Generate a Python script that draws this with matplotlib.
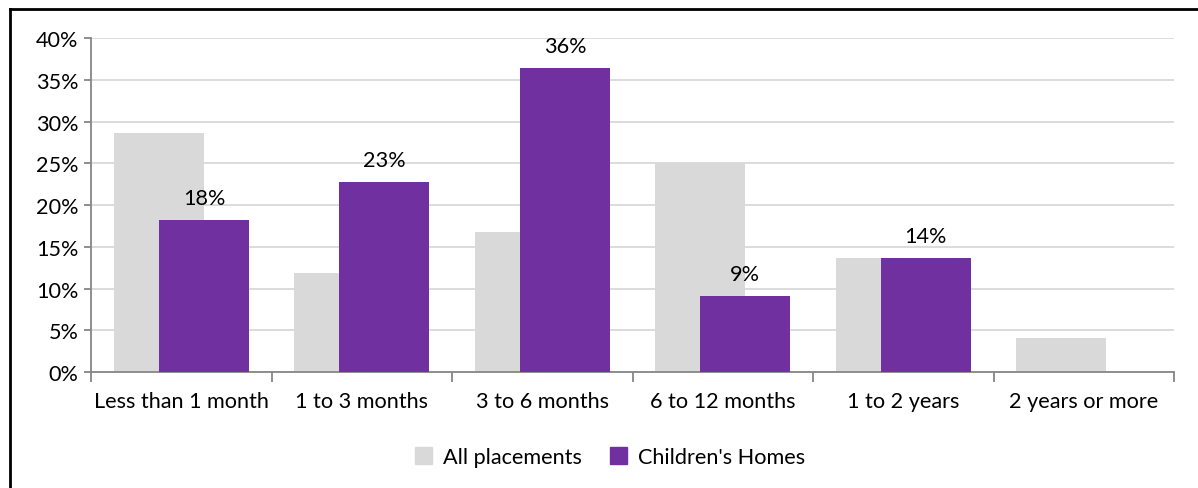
import numpy as np
import matplotlib
matplotlib.use("Agg")
import matplotlib.pyplot as plt
from matplotlib.lines import Line2D
from matplotlib.patches import Patch

plt.rcParams['font.family'] = ['Lato', 'DejaVu Sans']

categories = ["Less than 1 month", "1 to 3 months", "3 to 6 months",
              "6 to 12 months", "1 to 2 years", "2 years or more"]
all_placements = [28.6, 11.9, 16.8, 25.0, 13.6, 4.1]
childrens_homes = [18.2, 22.7, 36.4, 9.1, 13.6, 0.0]
home_labels = ["18%", "23%", "36%", "9%", "14%", ""]

grey = "#d9d9d9"
purple = "#7030a0"
fs = 15.6

fig = plt.figure(figsize=(11.98, 4.89), dpi=100)
ax = fig.add_axes([0.076, 0.2372, 0.904, 0.683])

x = np.arange(len(categories))
w = 0.5
ax.bar(x - 0.125, all_placements, w, color=grey, zorder=2)
bars = ax.bar(x + 0.125, childrens_homes, w, color=purple, zorder=3)
for b, lab in zip(bars, home_labels):
    if lab:
        ax.text(b.get_x() + b.get_width() / 2, b.get_height() + 1.5, lab,
                ha="center", va="bottom", fontsize=fs)

ax.set_xlim(-0.5, len(categories) - 0.5)
ax.set_ylim(0, 40)
ax.set_yticks(np.arange(0, 41, 5))
ax.set_yticklabels([f"{v}%" for v in range(0, 41, 5)], fontsize=fs)
ax.yaxis.grid(True, color=grey, lw=1.3, zorder=0)
ax.set_axisbelow(True)

ax.set_xticks(x)
ax.set_xticklabels(categories, fontsize=fs)
ax.tick_params(axis="x", length=0, pad=14)
ax.set_xticks(np.arange(-0.5, len(categories)), minor=True)
ax.tick_params(axis="x", which="minor", length=7, color="#868686", width=1.3)
ax.tick_params(axis="y", length=5, color="#868686", width=1.3, pad=4)

for s in ["top", "right"]:
    ax.spines[s].set_visible(False)
for s in ["left", "bottom"]:
    ax.spines[s].set_color("#868686")
    ax.spines[s].set_linewidth(1.3)

handles = [Patch(color=grey, label="All placements"),
           Patch(color=purple, label="Children's Homes")]
fig.legend(handles=handles, loc="center", bbox_to_anchor=(0.509, 0.063),
           ncol=2, frameon=False, fontsize=fs, handlelength=0.8,
           handleheight=0.8, handletextpad=0.5, columnspacing=1.3)

# outer frame of the chart box
fig.add_artist(Line2D([10 / 1198, 1], [1 - 10 / 489, 1 - 10 / 489],
                      transform=fig.transFigure, color="black", lw=2))
fig.add_artist(Line2D([10 / 1198, 10 / 1198], [0, 1 - 10 / 489],
                      transform=fig.transFigure, color="black", lw=2))

fig.savefig("out.png", dpi=100)
